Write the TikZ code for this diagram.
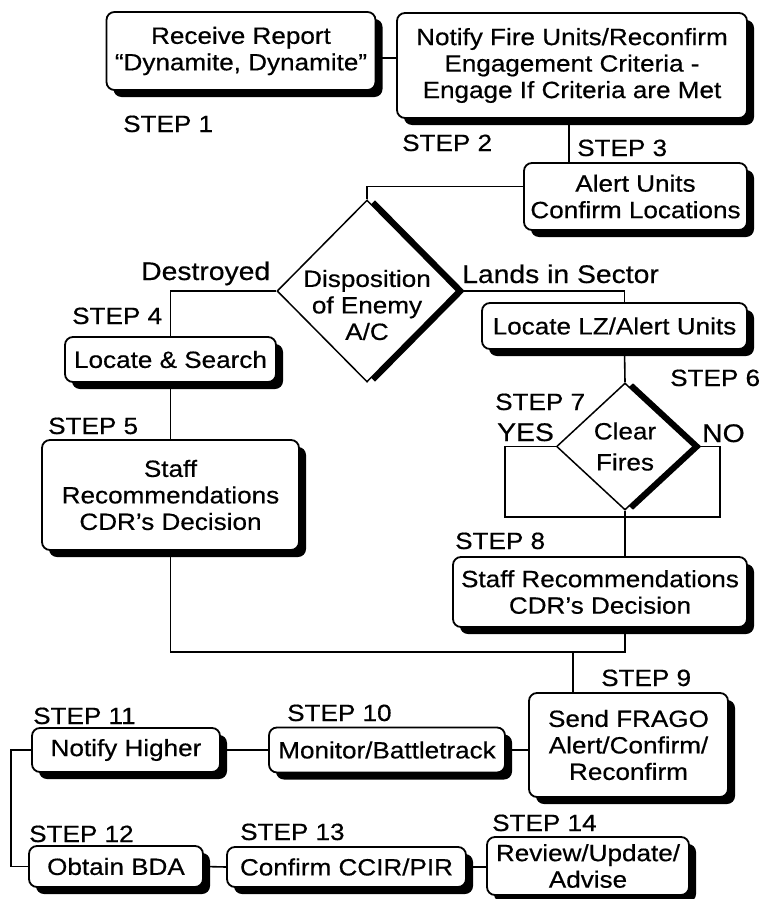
\documentclass[tikz,border=0pt]{standalone}
\usepackage{fontspec}
\setmainfont{Liberation Sans}[FakeStretch=1.11, FakeBold=0.5]
\usetikzlibrary{shapes.geometric, shadows}

\begin{document}
\begin{tikzpicture}[x=1pt, y=-1pt,
  font=\fontsize{23.5}{26.5}\selectfont,
  stepbox/.style={draw, line width=1.8pt, rounded corners=8pt, fill=white, align=center, inner sep=2pt,
                  drop shadow={shadow xshift=7pt, shadow yshift=-7pt, fill=black, opacity=1}},
  decision/.style={draw, diamond, line width=1.5pt, fill=white, inner sep=0pt,
                   drop shadow={shadow xshift=8pt, shadow yshift=0pt, fill=black, opacity=1}},
  steplabel/.style={anchor=base west, inner sep=0pt},
  branch/.style={anchor=base west, inner sep=0pt, font=\fontsize{25.5}{28}\selectfont},
  link/.style={draw, line width=1.6pt}]

\useasboundingbox (0,0) rectangle (761,899);

% boxes
\node [stepbox, minimum width=269pt, minimum height=78pt ] (report)  at (241,51)     {Receive Report\\“Dynamite, Dynamite”};
\node [stepbox, minimum width=350pt, minimum height=105pt] (notify)  at (572,65.5)   {Notify Fire Units/Reconfirm\\Engagement Criteria -\\Engage If Criteria are Met};
\node [stepbox, minimum width=223pt, minimum height=67pt ] (alert)   at (635.5,196.5) {Alert Units\\Confirm Locations};
\node [stepbox, minimum width=211pt, minimum height=45pt ] (search)  at (170.5,359.5) {Locate \& Search};
\node [stepbox, minimum width=257pt, minimum height=110pt] (staffl)  at (170.5,495)  {Staff\\Recommendations\\CDR’s Decision};
\node [stepbox, minimum width=265pt, minimum height=46pt ] (lz)      at (614.5,326)  {Locate LZ/Alert Units};
\node [stepbox, minimum width=294pt, minimum height=70pt ] (staffr)  at (600,592)    {Staff Recommendations\\CDR’s Decision};
\node [stepbox, minimum width=199pt, minimum height=104pt] (frago)   at (628.5,745)  {Send FRAGO\\Alert/Confirm/\\Reconfirm};
\node [stepbox, minimum width=236pt, minimum height=45pt ] (monitor) at (387,750)    {Monitor/Battletrack};
\node [stepbox, minimum width=188pt, minimum height=44pt ] (higher)  at (126,750)    {Notify Higher};
\node [stepbox, minimum width=174pt, minimum height=41pt ] (bda)     at (116,866.5)  {Obtain BDA};
\node [stepbox, minimum width=239pt, minimum height=40pt ] (ccir)    at (346.5,867)  {Confirm CCIR/PIR};
\node [stepbox, minimum width=202pt, minimum height=58pt ] (review)  at (588,866)    {Review/Update/\\Advise};

% decisions
\node [decision, minimum width=180pt, minimum height=182pt,
       label={[align=center, yshift=-14pt]center:Disposition\\of Enemy\\A/C}] (dispo) at (367,291) {};
\node [decision, minimum width=137pt, minimum height=127pt,
       label={[align=center, font=\fontsize{23.5}{31}\selectfont]center:Clear\\Fires}] (clear) at (625,446.5) {};

% bends
\coordinate (yes)     at (505,517);
\coordinate (no)      at (720,517);
\coordinate (join)    at (625,652);
\coordinate (tofrago) at (573,652);

% connectors
\path [link] ([yshift=-7pt]report.east) -- ([yshift=-7pt]report.east -| notify.west);
\path [link] ([xshift=-3pt]notify.south) -- ([xshift=-3pt]notify.south |- alert.north);
\path [link] ([yshift=10pt]alert.west) -| (dispo.north);
\path [link] (dispo.west) -| (search.north);
\path [link] (dispo.east) -| ([xshift=10pt]lz.north);
\path [link] ([xshift=10pt]lz.south) -- (clear.north);
\path [link] (search.south) -- (staffl.north);
\path [link] (clear.west) -| (yes) -- (no) |- (clear.east);
\path [link] (clear.south) -- (clear.south |- staffr.north);
\path [link] (staffl.south) |- (join) -- (join |- staffr.south);
\path [link] (tofrago) -- (tofrago |- frago.north);
\path [link] (frago.west |- monitor.east) -- (monitor.east);
\path [link] (monitor.west) -- (higher.east);
\path [link] (higher.west) -- ++(-20,0) |- (bda.west);
\path [link] (bda.east) -- (ccir.west);
\path [link] (ccir.east) -- (ccir.east -| review.west);

% branch and step labels
\node [branch]    (destroyed) at (141,280) {Destroyed};
\node [branch]    (lands)     at (462,283) {Lands in Sector};
\node [branch]    (yeslbl)    at (497,441) {YES};
\node [branch]    (nolbl)     at (702,442) {NO};
\node [steplabel] (s1)  at (123,132) {STEP 1};
\node [steplabel] (s2)  at (402,151) {STEP 2};
\node [steplabel] (s3)  at (577,156) {STEP 3};
\node [steplabel] (s4)  at (72,324)  {STEP 4};
\node [steplabel] (s5)  at (48,434)  {STEP 5};
\node [steplabel] (s6)  at (670,386) {STEP 6};
\node [steplabel] (s7)  at (495,410) {STEP 7};
\node [steplabel] (s8)  at (455,549) {STEP 8};
\node [steplabel] (s9)  at (601,686) {STEP 9};
\node [steplabel] (s10) at (287,721) {STEP 10};
\node [steplabel] (s11) at (33,724)  {STEP 11};
\node [steplabel] (s12) at (29,842)  {STEP 12};
\node [steplabel] (s13) at (240,840) {STEP 13};
\node [steplabel] (s14) at (492,831) {STEP 14};

\end{tikzpicture}
\end{document}
